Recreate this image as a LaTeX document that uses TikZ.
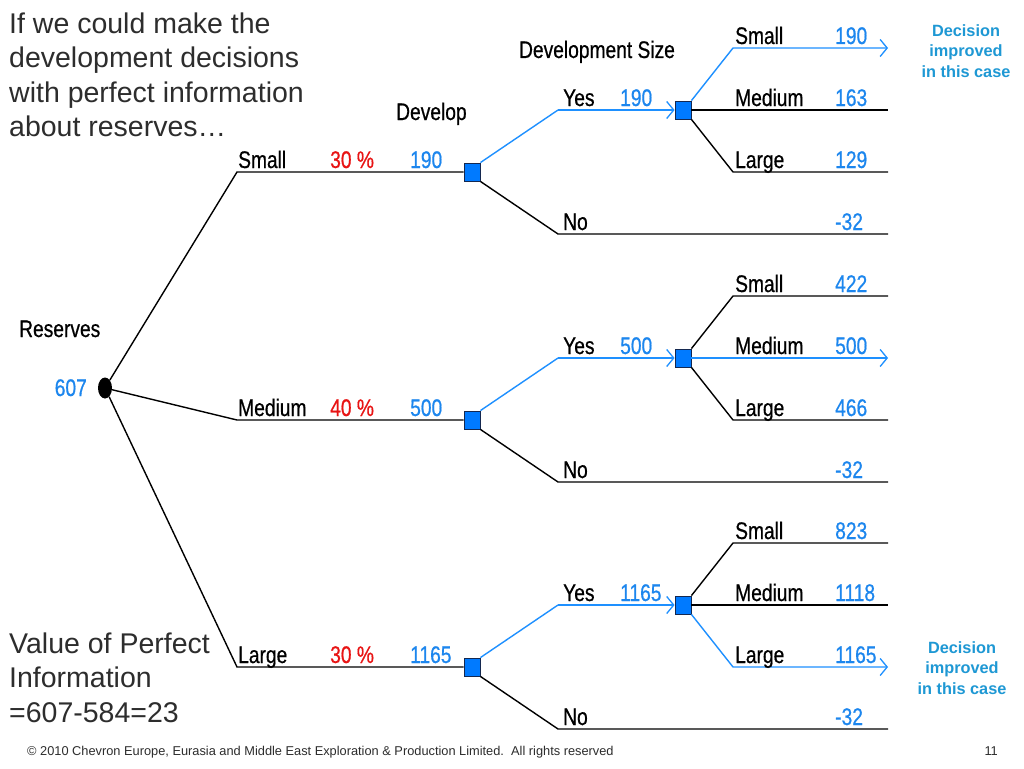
\documentclass[tikz,border=0pt]{standalone}
\usepackage{fontspec}
\setmainfont{Liberation Sans}
\newfontfamily\narrowf[FakeStretch=0.8,FakeBold=0.6]{Liberation Sans}
\usetikzlibrary{arrows.meta,shapes.geometric}
\definecolor{lineblue}{RGB}{30,144,255}
\definecolor{valblue}{RGB}{28,134,238}
\definecolor{sqfill}{RGB}{0,122,255}
\definecolor{sqdraw}{RGB}{20,40,80}
\definecolor{pctred}{RGB}{232,20,20}
\definecolor{noteblue}{RGB}{30,152,212}
\definecolor{textgray}{RGB}{45,45,45}
\tikzset{
  lbl/.style={font=\narrowf\fontsize{24}{26}\selectfont, anchor=base west, inner sep=0pt, text=black},
  val/.style={lbl, text=valblue},
  pct/.style={lbl, text=pctred},
  dec/.style={draw=sqdraw, fill=sqfill, line width=0.9pt, minimum width=16pt, minimum height=18pt, inner sep=0pt},
  chance/.style={ellipse, fill=black, minimum width=14pt, minimum height=21pt, inner sep=0pt},
  br/.style={draw=black, line width=1.4pt},
  bb/.style={draw=lineblue, line width=1.4pt},
  tip/.style={-{Straight Barb[length=7pt,width=17pt,line width=1.3pt]}},
  note/.style={font=\bfseries\fontsize{16.3}{20.5}\selectfont, text=noteblue, align=center, inner sep=0pt},
  big/.style={font=\fontsize{28.5}{34.5}\selectfont, text=textgray, align=left, inner sep=0pt},
}
\begin{document}
\begin{tikzpicture}[x=1pt,y=-1pt]
\useasboundingbox[fill=white] (0,0) rectangle (1024,768);

% texts
\node[big, anchor=north west] (intro) at (9,12.5) {If we could make the\\development decisions\\with perfect information\\about reserves…};
\node[big, anchor=north west] (vpi) at (9,632.5) {Value of Perfect\\Information\\=607-584=23};
\node[font=\fontsize{12.8}{14}\selectfont, text=textgray, anchor=base west, inner sep=0pt] (foot) at (27,755) {© 2010 Chevron Europe, Eurasia and Middle East Exploration \& Production Limited.\ \ All rights reserved};
\node[font=\fontsize{12.8}{14}\selectfont, text=textgray, anchor=base east, inner sep=0pt] (page) at (998,755) {11};
\node[note] (n1) at (966,51) {Decision\\improved\\in this case};
\node[note] (n2) at (962,668) {Decision\\improved\\in this case};

% headings
\node[lbl] (hres) at (19,337) {Reserves};
\node[lbl] (hdev) at (396,120) {Develop};
\node[lbl, anchor=base] (hsize) at (597,58) {Development Size};

% chance node
\node[chance] (c) at (105,388) {};
\node[val, anchor=base east] (cv) at (87,396) {607};

% decision nodes level 1
\node[dec] (d1) at (472,172) {};
\node[dec] (d2) at (472,420) {};
\node[dec] (d3) at (472,667) {};
% decision nodes level 2
\node[dec] (e1) at (683,110) {};
\node[dec] (e2) at (683,358) {};
\node[dec] (e3) at (683,605) {};

% bends and ends
\coordinate (cs) at (237,172);
\coordinate (cm) at (237,420);
\coordinate (cl) at (237,667);
\foreach \i/\y in {1/110,2/358,3/605}{
  \coordinate (y\i) at (558,\y);
}
\foreach \i/\y in {1/234,2/482,3/729}{
  \coordinate (n\i b) at (558,\y);
  \coordinate (n\i e) at (888,\y);
}
\foreach \i/\y in {1/48,2/296,3/543}{
  \coordinate (s\i b) at (733,\y);
  \coordinate (s\i e) at (888,\y);
}
\foreach \i/\y in {1/110,2/358,3/605}{
  \coordinate (m\i e) at (888,\y);
}
\foreach \i/\y in {1/172,2/420,3/667}{
  \coordinate (l\i b) at (733,\y);
  \coordinate (l\i e) at (888,\y);
}

% chance branches
\draw[br] (c) -- (cs) -- (d1.west);
\draw[br] (c) -- (cm) -- (d2.west);
\draw[br] (c) -- (cl) -- (d3.west);
\node[lbl] (ls) at (238,168) {Small};
\node[pct] (ps) at (330,168) {30 \%};
\node[val] (vs) at (410,168) {190};
\node[lbl] (lm) at (238,416) {Medium};
\node[pct] (pm) at (330,416) {40 \%};
\node[val] (vm) at (410,416) {500};
\node[lbl] (ll) at (238,663) {Large};
\node[pct] (pl) at (330,663) {30 \%};
\node[val] (vl) at (410,663) {1165};

% develop branches
\foreach \i/\d/\e in {1/d1/e1,2/d2/e2,3/d3/e3}{
  \draw[bb] (\d.north east) -- (y\i);
  \draw[bb, tip] (y\i) -- (\e.west);
  \draw[br] (\d.south east) -- (n\i b) -- (n\i e);
}
\node[lbl] (y1l) at (563,106) {Yes};
\node[val] (y1v) at (620,106) {190};
\node[lbl] (n1l) at (563,230) {No};
\node[val] (n1v) at (835,230) {-32};
\node[lbl] (y2l) at (563,354) {Yes};
\node[val] (y2v) at (620,354) {500};
\node[lbl] (n2l) at (563,478) {No};
\node[val] (n2v) at (835,478) {-32};
\node[lbl] (y3l) at (563,601) {Yes};
\node[val] (y3v) at (620,601) {1165};
\node[lbl] (n3l) at (563,725) {No};
\node[val] (n3v) at (835,725) {-32};

% size branches group 1 (Small optimal)
\draw[bb, tip] (e1.north east) -- (s1b) -- (s1e);
\draw[br] (e1.east) -- (m1e);
\draw[br] (e1.south east) -- (l1b) -- (l1e);
% group 2 (Medium optimal)
\draw[br] (e2.north east) -- (s2b) -- (s2e);
\draw[bb, tip] (e2.east) -- (m2e);
\draw[br] (e2.south east) -- (l2b) -- (l2e);
% group 3 (Large optimal)
\draw[br] (e3.north east) -- (s3b) -- (s3e);
\draw[br] (e3.east) -- (m3e);
\draw[bb, tip] (e3.south east) -- (l3b) -- (l3e);

\foreach \i/\ys/\ym/\yl/\vs/\vm/\vl in {1/44/106/168/190/163/129, 2/292/354/416/422/500/466, 3/539/601/663/823/1118/1165}{
  \node[lbl] (sl\i) at (735,\ys) {Small};
  \node[val] (sv\i) at (835,\ys) {\vs};
  \node[lbl] (ml\i) at (735,\ym) {Medium};
  \node[val] (mv\i) at (835,\ym) {\vm};
  \node[lbl] (ll\i) at (735,\yl) {Large};
  \node[val] (lv\i) at (835,\yl) {\vl};
}
\end{tikzpicture}
\end{document}
